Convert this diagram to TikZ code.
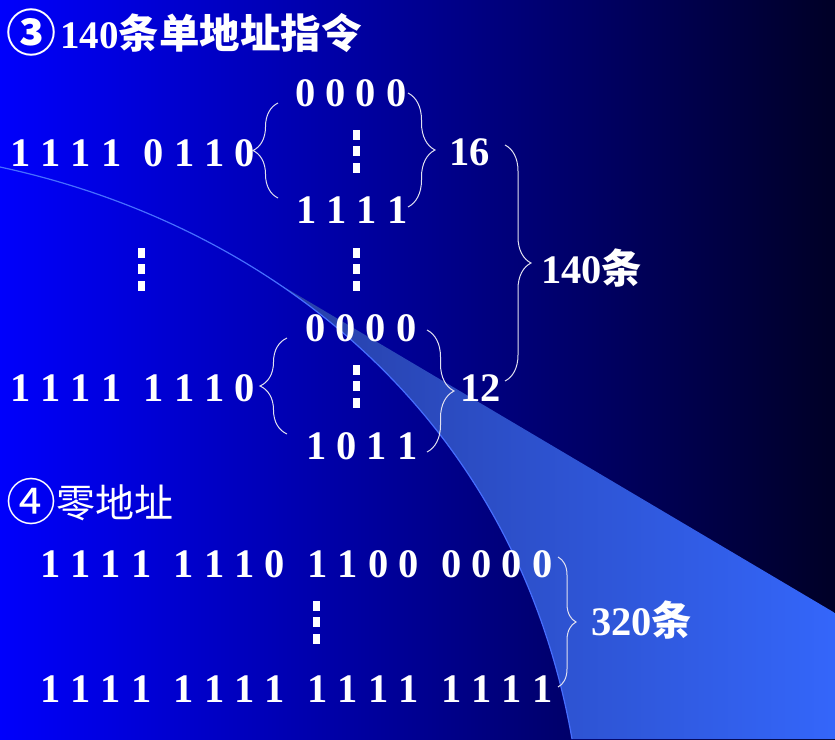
\documentclass[tikz,border=0pt]{standalone}
\usepackage{fontspec}
\setmainfont{Liberation Serif}
\newfontfamily\cjk{Noto Sans CJK SC}
\usetikzlibrary{positioning, calc, decorations.pathreplacing}

\definecolor{bgleft}{RGB}{0,0,252}
\definecolor{bgmid}{RGB}{0,0,200}
\definecolor{bgright}{RGB}{0,0,38}
\definecolor{swleft}{RGB}{38,60,160}
\definecolor{swright}{RGB}{52,102,250}
\definecolor{swline}{RGB}{70,110,255}
\definecolor{bracecol}{RGB}{225,225,240}

\newcommand{\vdotbar}{\vbox{\hbox{\rule{7pt}{10pt}}\vskip4.5pt\hbox{\rule{7pt}{10pt}}\vskip4.5pt\hbox{\rule{7pt}{10pt}}}}
\newcommand{\grp}{\hspace{0.55em}}
\newcommand{\circnum}[1]{\raisebox{-3pt}{\cjk\fontsize{50}{50}\selectfont #1}}

\tikzset{
	bits/.style={text=white, inner sep=0pt, anchor=base west, font=\fontsize{40.5}{48}\selectfont\bfseries},
	heading/.style={text=white, inner sep=0pt, anchor=base west, font=\fontsize{39}{46}\selectfont\bfseries},
	vdotnode/.style={text=white, inner sep=0pt},
	bracket/.style={draw=bracecol, line width=1pt, decorate, decoration={brace, amplitude=#1}},
}

\begin{document}
\begin{tikzpicture}[x=1pt, y=-1pt]
		\useasboundingbox (0,0) rectangle (835,739);
		\shade[left color=bgleft, middle color=bgmid, right color=bgright] (0,0) rectangle (835,739);
		\begin{scope}
			\clip (0,167) .. controls (270,225) and (515,415) .. (572,739) -- (835,739) -- (835,0) -- (0,0) -- cycle;
			\shade[left color=swleft, right color=swright] (230,255) -- (835,613) -- (835,739) -- (230,739) -- cycle;
		\end{scope}
		\draw[swline, line width=1.2pt] (0,167) .. controls (270,225) and (515,415) .. (572,739);

		\node[heading] (title) at (6,48) {\circnum{③}\hspace{4pt}140{\cjk\fontsize{40.5}{48}\selectfont 条单地址指令}};

		\node[bits] (row1) at (10,166) {1 1 1 1\grp 0 1 1 0};
		\node[bits] (lo1) at (295,106) {0 0 0 0};
		\node[vdotnode] (dot1) at (356,151) {\vdotbar};
		\node[bits] (hi1) at (296,223) {1 1 1 1};
		\node[bits] (n16) at (449,165) {16};

		\node[vdotnode] (dotl) at (141,269) {\vdotbar};
		\node[vdotnode] (dotm) at (356,269) {\vdotbar};
		\node[bits] (n140) at (541,283) {140{\cjk 条}};

		\node[bits] (lo2) at (305,341) {0 0 0 0};
		\node[bits] (row2) at (10,401) {1 1 1 1\grp 1 1 1 0};
		\node[vdotnode] (dot2) at (356,386) {\vdotbar};
		\node[bits] (hi2) at (306,459) {1 0 1 1};
		\node[bits] (n12) at (460,401) {12};

		\node[heading, font=\fontsize{39}{46}\selectfont] (zero) at (6,517) {\circnum{④}{\cjk 零地址}};
		\node[bits] (zlo) at (40,577) {1 1 1 1\grp 1 1 1 0\grp 1 1 0 0\grp 0 0 0 0};
		\node[vdotnode] (dot3) at (316,622) {\vdotbar};
		\node[bits] (zhi) at (40,702) {1 1 1 1\grp 1 1 1 1\grp 1 1 1 1\grp 1 1 1 1};
		\node[bits] (n320) at (591,635) {320{\cjk 条}};

		\coordinate (b1t) at (278,103);
		\coordinate (b1b) at (278,198);
		\coordinate (b2t) at (408,93);
		\coordinate (b2b) at (408,207);
		\coordinate (b3t) at (505,145);
		\coordinate (b3b) at (505,381);
		\coordinate (b4t) at (287,338);
		\coordinate (b4b) at (287,434);
		\coordinate (b5t) at (427,330);
		\coordinate (b5b) at (427,452);
		\coordinate (b6t) at (558,557);
		\coordinate (b6b) at (558,687);

		\draw[bracket=25] (b1b) -- (b1t);
		\draw[bracket=27] (b2t) -- (b2b);
		\draw[bracket=26] (b3t) -- (b3b);
		\draw[bracket=27] (b4b) -- (b4t);
		\draw[bracket=27] (b5t) -- (b5b);
		\draw[bracket=18] (b6t) -- (b6b);
	\end{tikzpicture}
\end{document}
